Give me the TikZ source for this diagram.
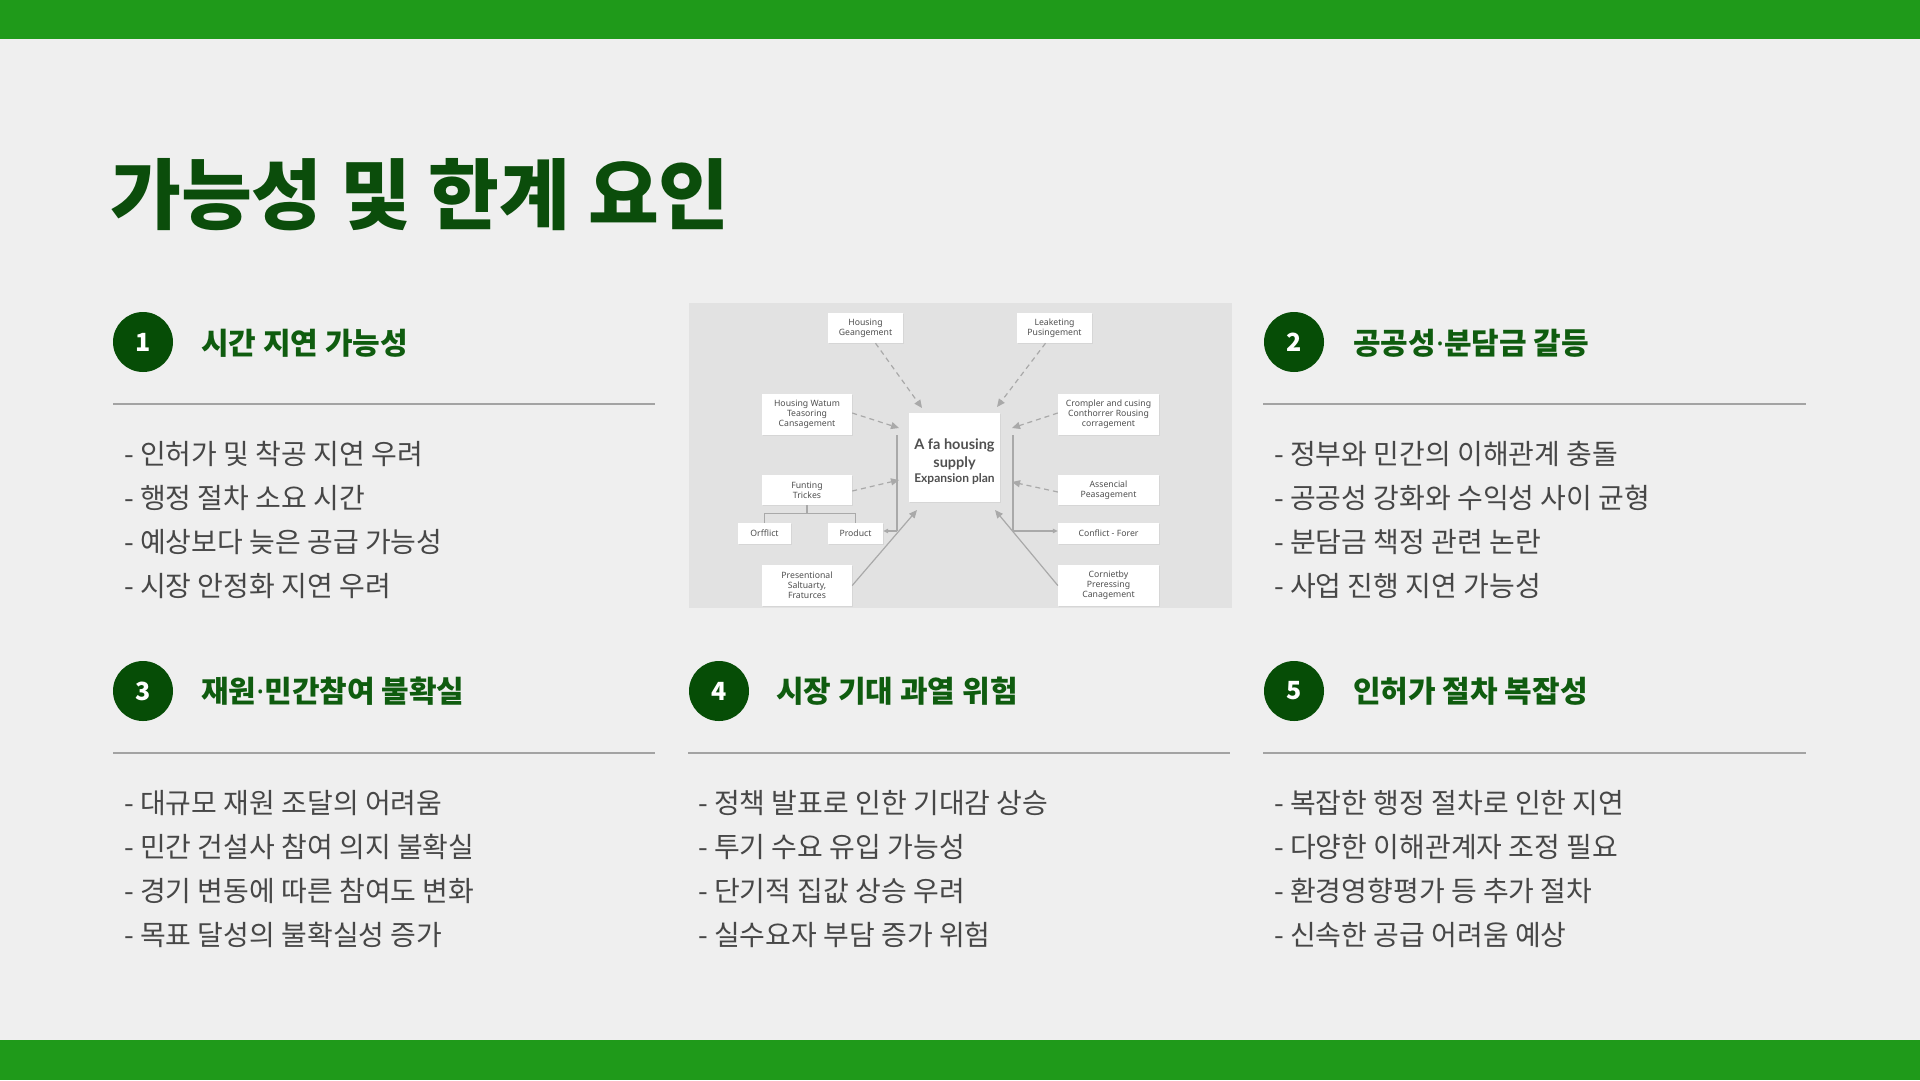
\documentclass[tikz,border=0pt]{standalone}
\usepackage{fontspec}
\setmainfont{Noto Sans CJK KR}
\newfontfamily\en{Noto Sans}
\newfontfamily\lato{Lato}
\usetikzlibrary{arrows.meta,shadows}
\definecolor{pagebg}{HTML}{EFEFEF}
\definecolor{bar}{HTML}{1F9A1A}
\definecolor{titlegreen}{HTML}{0B4D0B}
\definecolor{headgreen}{HTML}{0F5C0F}
\definecolor{circgreen}{HTML}{064D06}
\definecolor{bullgray}{HTML}{474747}
\definecolor{sepgray}{HTML}{A3A3A3}
\definecolor{imgbg}{HTML}{E2E2E2}
\definecolor{dgray}{HTML}{A9A9A9}
\definecolor{dtext}{HTML}{505050}
\newcommand{\mdot}{{\en ·}}
\tikzset{
  numcirc/.style={circle,fill=circgreen,minimum size=60pt,inner sep=0pt,text=white,font=\fontsize{25}{25}\selectfont\bfseries},
  headtxt/.style={anchor=west,inner sep=0pt,text=headgreen,font=\fontsize{30}{30}\selectfont\bfseries},
  bulltxt/.style={anchor=west,inner sep=0pt,text=bullgray,font=\fontsize{28}{28}\selectfont},
  sepline/.style={draw=sepgray,line width=1.3pt},
  dbox/.style={fill=white,inner sep=1pt,align=center,text=dtext,font=\en\fontsize{8.7}{10}\selectfont,
    drop shadow={opacity=0.12,shadow xshift=0.8pt,shadow yshift=-0.8pt}},
  dline/.style={draw=dgray,line width=1.2pt},
  darr/.style={dline,-{Triangle[length=8pt,width=7pt]}},
  ddash/.style={darr,dash pattern=on 5pt off 4pt},
}
\begin{document}
\begin{tikzpicture}[x=1pt,y=-1pt]
\useasboundingbox (0,0) rectangle (1920,1080);
\fill[pagebg] (0,0) rectangle (1920,1080);
\fill[bar] (0,0) rectangle (1920,39);
\fill[bar] (0,1040) rectangle (1920,1080);

% title
\node[anchor=west,inner sep=0pt,text=titlegreen,font=\fontsize{77}{77}\selectfont\bfseries] (title) at (110,195) {가능성 및 한계 요인};

% section 1
\node[numcirc] (n1) at (143,342) {1};
\node[headtxt] (h1) at (201,343) {시간 지연 가능성};
\draw[sepline] (113,404) coordinate (l1a) -- (655,404) coordinate (l1b);
\foreach \t [count=\i] in {인허가 및 착공 지연 우려, 행정 절차 소요 시간, 예상보다 늦은 공급 가능성, 시장 안정화 지연 우려}
  \node[bulltxt] (b1\i) at (124,{454+(\i-1)*44}) {- \t};

% section 2
\node[numcirc] (n2) at (1294,342) {2};
\node[headtxt] (h2) at (1353,343) {공공성\mdot 분담금 갈등};
\draw[sepline] (1263,404) coordinate (l2a) -- (1806,404) coordinate (l2b);
\foreach \t [count=\i] in {정부와 민간의 이해관계 충돌, 공공성 강화와 수익성 사이 균형, 분담금 책정 관련 논란, 사업 진행 지연 가능성}
  \node[bulltxt] (b2\i) at (1274,{454+(\i-1)*44}) {- \t};

% section 3
\node[numcirc] (n3) at (143,691) {3};
\node[headtxt] (h3) at (201,691) {재원\mdot 민간참여 불확실};
\draw[sepline] (113,753) coordinate (l3a) -- (655,753) coordinate (l3b);
\foreach \t [count=\i] in {대규모 재원 조달의 어려움, 민간 건설사 참여 의지 불확실, 경기 변동에 따른 참여도 변화, 목표 달성의 불확실성 증가}
  \node[bulltxt] (b3\i) at (124,{803+(\i-1)*44}) {- \t};

% section 4
\node[numcirc] (n4) at (719,691) {4};
\node[headtxt] (h4) at (776,691) {시장 기대 과열 위험};
\draw[sepline] (688,753) coordinate (l4a) -- (1230,753) coordinate (l4b);
\foreach \t [count=\i] in {정책 발표로 인한 기대감 상승, 투기 수요 유입 가능성, 단기적 집값 상승 우려, 실수요자 부담 증가 위험}
  \node[bulltxt] (b4\i) at (698,{803+(\i-1)*44}) {- \t};

% section 5
\node[numcirc] (n5) at (1294,691) {5};
\node[headtxt] (h5) at (1353,691) {인허가 절차 복잡성};
\draw[sepline] (1263,753) coordinate (l5a) -- (1806,753) coordinate (l5b);
\foreach \t [count=\i] in {복잡한 행정 절차로 인한 지연, 다양한 이해관계자 조정 필요, 환경영향평가 등 추가 절차, 신속한 공급 어려움 예상}
  \node[bulltxt] (b5\i) at (1274,{803+(\i-1)*44}) {- \t};

% central diagram
\fill[imgbg] (689,303) rectangle (1232,608);
\node[dbox,minimum width=91pt,minimum height=89pt] (ctr) at (954.5,457.5) {};
\node[align=center,inner sep=0pt,text=dtext,font=\lato\bfseries\fontsize{14.5}{18}\selectfont] (ctrtxt) at (954.5,462)
  {A fa housing\\supply\\[-3pt]{\fontsize{12}{14}\selectfont Expansion plan}};
\node[dbox,minimum width=75pt,minimum height=30pt] (hg) at (865.5,328) {Housing\\Geangement};
\node[dbox,minimum width=75pt,minimum height=30pt] (lp) at (1054.5,328) {Leaketing\\Pusingement};
\node[dbox,minimum width=90pt,minimum height=41pt] (hw) at (807,414.5) {Housing Watum\\Teasoring\\Cansagement};
\node[dbox,minimum width=90pt,minimum height=30pt] (fu) at (807,490) {Funting\\Trickes};
\node[dbox,minimum width=53pt,minimum height=21pt] (of) at (764.5,533.5) {Orfflict};
\node[dbox,minimum width=55pt,minimum height=21pt] (pr) at (855.5,533.5) {Product};
\node[dbox,minimum width=90pt,minimum height=41pt] (ps) at (807,585.5) {Presentional\\Saltuarty,\\Fraturces};
\node[dbox,minimum width=101pt,minimum height=41pt] (cr) at (1108.5,414.5) {Crompler and cusing\\Conthorrer Rousing\\corragement};
\node[dbox,minimum width=101pt,minimum height=30pt] (as) at (1108.5,490) {Assencial\\Peasagement};
\node[dbox,minimum width=101pt,minimum height=21pt] (cf) at (1108.5,533.5) {Conflict - Forer};
\node[dbox,minimum width=101pt,minimum height=41pt] (co) at (1108.5,585.5) {Cornietby\\Preressing\\Canagement};

\coordinate (e1) at (922,408);
\coordinate (e2) at (997,407);
\coordinate (e3) at (899,428);
\coordinate (e4) at (899,480);
\coordinate (e5) at (1012,428);
\coordinate (e6) at (1012,482);
\coordinate (e7) at (917,510);
\coordinate (e8) at (995,510);
\coordinate (vl1) at (897,435);
\coordinate (vl2) at (897,531);
\coordinate (vr1) at (1013,435);
\coordinate (vr2) at (1013,531);

\draw[ddash] ([xshift=10pt]hg.south) -- (e1);
\draw[ddash] ([xshift=-9pt]lp.south) -- (e2);
\draw[ddash] ([yshift=1.5pt]hw.east) -- (e3);
\draw[ddash] ([yshift=-1pt]fu.east) -- (e4);
\draw[ddash] ([yshift=1.5pt]cr.west) -- (e5);
\draw[ddash] ([yshift=-2pt]as.west) -- (e6);
\draw[darr] (ps.east) -- (e7);
\draw[darr] (co.west) -- (e8);
\draw[dline] (vl1) -- (vl2);
\draw[darr,-{Triangle[length=5pt,width=4.5pt]}] (vl2) -- ([yshift=2.5pt]pr.east);
\draw[dline] (vr1) -- (vr2);
\draw[darr,-{Triangle[length=5pt,width=4.5pt]}] (vr2) -- ([yshift=2.5pt]cf.west);
\draw[dline] (fu.south) -- ++(0,8) coordinate (fb);
\draw[dline] (of.north) |- (fb) -| (pr.north);
\end{tikzpicture}
\end{document}
